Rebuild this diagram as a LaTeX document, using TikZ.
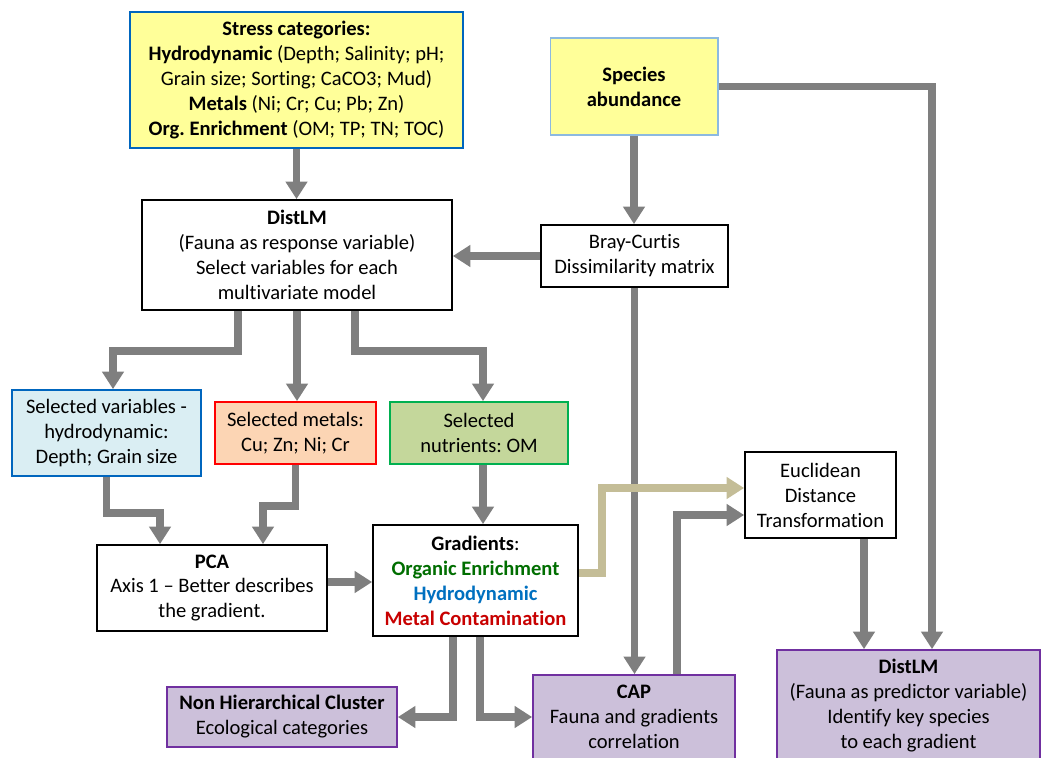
\documentclass[tikz,border=0pt]{standalone}
\usepackage{fontspec}
\setmainfont{Carlito}[Ligatures={NoCommon,NoRare}]
\frenchspacing
\usepackage{xcolor}
\usetikzlibrary{positioning,arrows.meta}
\definecolor{arrowgray}{RGB}{127,127,127}
\definecolor{arrowtan}{RGB}{196,189,151}
\definecolor{paleyellow}{RGB}{255,255,153}
\definecolor{stressblue}{RGB}{0,102,190}
\definecolor{speciesblue}{RGB}{140,185,225}
\definecolor{hydrofill}{RGB}{218,238,243}
\definecolor{metalfill}{RGB}{252,213,180}
\definecolor{nutrfill}{RGB}{196,215,155}
\definecolor{nutrgreen}{RGB}{0,176,80}
\definecolor{purplefill}{RGB}{204,192,218}
\definecolor{purpleline}{RGB}{112,48,160}
\definecolor{orggreen}{RGB}{0,110,0}
\definecolor{hydroblue}{RGB}{0,112,192}
\definecolor{metalred}{RGB}{200,0,0}

\begin{document}
\begin{tikzpicture}[
        x=0.02cm, y=-0.02cm,
        font=\fontsize{11.7}{14.2}\selectfont,
        box/.style={rectangle, draw=black, fill=white, line width=1pt,
                    align=center, inner sep=2pt},
        yellowbox/.style={box, fill=paleyellow},
        purplebox/.style={box, draw=purpleline, fill=purplefill},
        arrow/.style={-{Triangle[width=12pt,length=10pt]}, line width=4.5pt, arrowgray},
        tanarrow/.style={arrow, arrowtan}
    ]
        \clip (0,0) rectangle (1043,757);

        % inputs
        \node[yellowbox, draw=stressblue, minimum width=6.66cm, minimum height=2.72cm] (stress) at (296.5,80)
            {\textbf{Stress categories:}\\\textbf{Hydrodynamic} (Depth; Salinity; pH;\\Grain size; Sorting; CaCO3; Mud)\\\textbf{Metals} (Ni; Cr; Cu; Pb; Zn)\\\textbf{Org. Enrichment} (OM; TP; TN; TOC)};
        \node[yellowbox, draw=speciesblue, line width=0.6pt, minimum width=3.36cm, minimum height=1.94cm] (species) at (634,86.5)
            {\textbf{Species}\\\textbf{abundance}};

        % first analyses
        \node[box, minimum width=6.2cm, minimum height=2.2cm] (distlm) at (297,255)
            {\textbf{DistLM}\\(Fauna as response variable)\\Select variables for each\\multivariate model};
        \node[box, minimum width=3.74cm, minimum height=1.24cm] (bray) at (634.5,256)
            {Bray-Curtis\\Dissimilarity matrix};

        % selected variables
        \node[box, draw=stressblue, fill=hydrofill, minimum width=3.78cm, minimum height=1.72cm] (hydro) at (106.5,433)
            {Selected variables -\\hydrodynamic:\\Depth; Grain size};
        \node[box, draw=red, fill=metalfill, minimum width=3.22cm, minimum height=1.24cm] (metals) at (295.5,433)
            {Selected metals:\\Cu; Zn; Ni; Cr};
        \node[box, draw=nutrgreen, fill=nutrfill, minimum width=3.56cm, minimum height=1.24cm] (nutrients) at (479,433)
            {Selected\\nutrients: OM};

        % gradients
        \node[box, minimum width=4.6cm, minimum height=1.72cm] (pca) at (212,588)
            {\textbf{PCA}\\Axis 1 -- Better describes\\the gradient.};
        \node[box, minimum width=4.1cm, minimum height=2.22cm] (gradients) at (475.5,580.5)
            {\textbf{Gradients}:\\\textcolor{orggreen}{\textbf{Organic Enrichment}}\\\textcolor{hydroblue}{\textbf{Hydrodynamic}}\\\textcolor{metalred}{\textbf{Metal Contamination}}};
        \node[box, minimum width=3.02cm, minimum height=1.72cm] (euclid) at (820.5,495)
            {Euclidean\\Distance\\Transformation};

        % outputs
        \node[purplebox, minimum width=4.6cm, minimum height=1.2cm] (cluster) at (282,717)
            {\textbf{Non Hierarchical Cluster}\\Ecological categories};
        \node[purplebox, minimum width=4.04cm, minimum height=1.68cm] (cap) at (634,717)
            {\textbf{CAP}\\Fauna and gradients\\correlation};
        \node[purplebox, minimum width=5.26cm, minimum height=2.22cm] (distlmb) at (908.5,705.5)
            {\textbf{DistLM}\\(Fauna as predictor variable)\\Identify key species\\to each gradient};

        % connectors
        \draw[arrow] (stress.south) -- (stress.south |- distlm.north);
        \draw[arrow] (species.south) -- (species.south |- bray.north);
        \draw[arrow] (species.east) -| ([xshift=0.47cm]distlmb.north);
        \draw[arrow] (bray.west) -- (bray.west -| distlm.east);
        \draw[arrow] (bray.south) -- (bray.south |- cap.north);
        \draw[arrow] ([xshift=-1.18cm]distlm.south) -- ++(0,40) -| ([xshift=0.13cm]hydro.north);
        \draw[arrow] (distlm.south) -- (distlm.south |- metals.north);
        \draw[arrow] ([xshift=1.16cm]distlm.south) -- ++(0,40) -| ([xshift=0.08cm]nutrients.north);
        \draw[arrow] (hydro.south) -- ++(0,36) -| ([xshift=-1.04cm]pca.north);
        \draw[arrow] (metals.south) -- ++(0,41) -| ([xshift=1.02cm]pca.north);
        \draw[arrow] ([xshift=0.08cm]nutrients.south) -- ([xshift=0.08cm]nutrients.south |- gradients.north);
        \draw[arrow] ([yshift=0.12cm]pca.east) -- ([yshift=0.12cm]pca.east -| gradients.west);
        \draw[tanarrow] ([yshift=0.15cm]gradients.east) -- ++(23,0) |- ([yshift=0.14cm]euclid.west);
        \draw[arrow] ([xshift=0.86cm]cap.north) |- ([yshift=-0.4cm]euclid.west);
        \draw[arrow] ([xshift=0.87cm]euclid.south) -- ([xshift=0.87cm]euclid.south |- distlmb.north);
        \draw[arrow] ([xshift=-0.45cm]gradients.south) |- (cluster.east);
        \draw[arrow] ([xshift=0.09cm]gradients.south) |- (cap.west);
    \end{tikzpicture}
\end{document}
